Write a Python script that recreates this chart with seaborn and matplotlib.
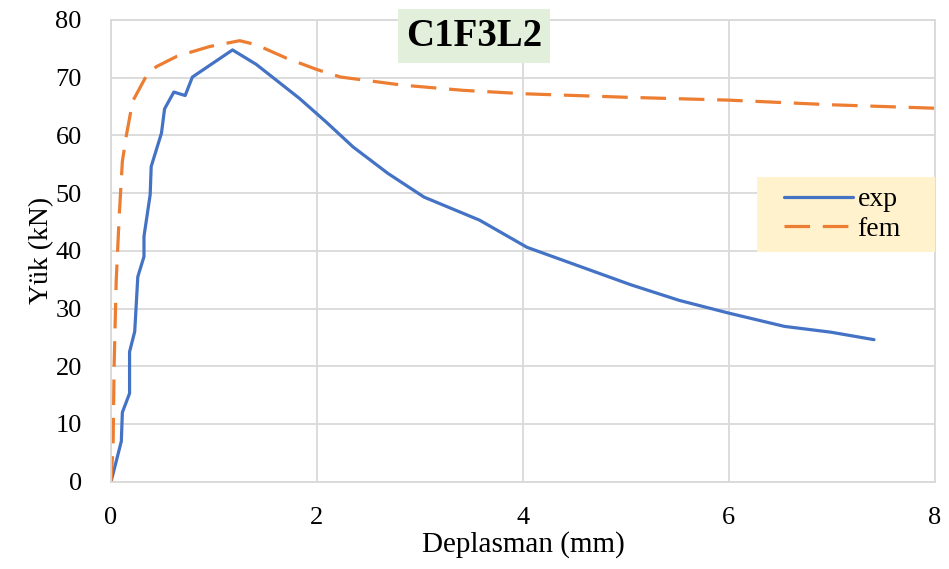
import pandas as pd
import seaborn as sns
import matplotlib.pyplot as plt
from matplotlib.patches import Rectangle

# load-displacement data
exp_x = [0.0, 0.10, 0.11, 0.18, 0.18, 0.23, 0.26, 0.32, 0.32, 0.38, 0.39, 0.49, 0.52,
         0.61, 0.72, 0.79, 1.18, 1.41, 1.83, 2.09, 2.35, 2.69, 3.04, 3.58, 4.04,
         5.05, 5.52, 6.0, 6.54, 6.99, 7.41]
exp_y = [0.0, 7.0, 12.0, 15.3, 22.5, 26.0, 35.5, 39.0, 42.5, 49.7, 54.6, 60.4, 64.6,
         67.5, 66.9, 70.1, 74.8, 72.3, 66.4, 62.3, 58.0, 53.4, 49.3, 45.3, 40.6,
         34.1, 31.4, 29.2, 26.9, 25.9, 24.6]

fem_x = [0.0, 0.02, 0.03, 0.05, 0.08, 0.11, 0.15, 0.21, 0.34, 0.44, 0.64, 0.96, 1.25,
         1.41, 1.70, 2.0, 2.23, 2.83, 3.42, 4.02, 5.0, 6.0, 6.99, 8.0]
fem_y = [0.0, 6.4, 20.0, 34.7, 46.2, 55.5, 60.1, 65.9, 70.2, 71.9, 73.7, 75.4, 76.4,
         75.7, 73.4, 71.4, 70.1, 68.7, 67.8, 67.2, 66.6, 66.1, 65.3, 64.7]

df = pd.concat([
    pd.DataFrame({"x": exp_x, "y": exp_y, "series": "exp"}),
    pd.DataFrame({"x": fem_x, "y": fem_y, "series": "fem"}),
])

sns.set_theme(style="whitegrid")
plt.rcParams["font.family"] = ["Liberation Serif", "DejaVu Serif"]
plt.rcParams["text.color"] = "black"
plt.rcParams["axes.labelcolor"] = "black"

fig = plt.figure(figsize=(9.49, 5.69), dpi=100)
ax = fig.add_axes([0.117, 0.1535, 0.868, 0.8115])

sns.lineplot(data=df, x="x", y="y", hue="series", style="series",
             palette={"exp": "#4472C4", "fem": "#ED7D31"},
             dashes={"exp": "", "fem": (8, 4)},
             sort=False, estimator=None, linewidth=2.3, ax=ax)

ax.set_xlim(0, 8)
ax.set_ylim(0, 80)
ax.set_xticks([0, 2, 4, 6, 8])
ax.set_yticks(range(0, 81, 10))
ax.grid(True, color="#d9d9d9", linewidth=1.3)
for s in ax.spines.values():
    s.set_color("#d9d9d9")
    s.set_linewidth(1.3)
ax.tick_params(axis="both", labelsize=19, length=0, colors="black")
ax.tick_params(axis="y", pad=21)
ax.tick_params(axis="x", pad=18)

ax.set_xlabel("Deplasman (mm)", fontsize=21, labelpad=2)
ax.set_ylabel("Yük (kN)", fontsize=20, labelpad=1)

# legend background box, wider than the legend content
ax.add_patch(Rectangle((0.784, 0.4975), 0.216, 0.1625, transform=ax.transAxes,
                       facecolor="#fff2cc", edgecolor="none", zorder=4,
                       clip_on=False))
handles, labels = ax.get_legend_handles_labels()
leg = ax.legend(handles, labels, loc="center", bbox_to_anchor=(0.888, 0.579),
                fontsize=20, frameon=False, handlelength=2.5,
                handletextpad=0.15, labelspacing=0.15)
leg.set_zorder(5)
for t in leg.get_texts():
    t.set_color("black")

fig.text(474 / 949, 1 - 36 / 569, "C1F3L2", fontsize=28, fontweight="bold",
         color="black", ha="center", va="center",
         bbox=dict(facecolor="#e2efda", edgecolor="none", pad=6))

fig.savefig("out.png", dpi=100)
